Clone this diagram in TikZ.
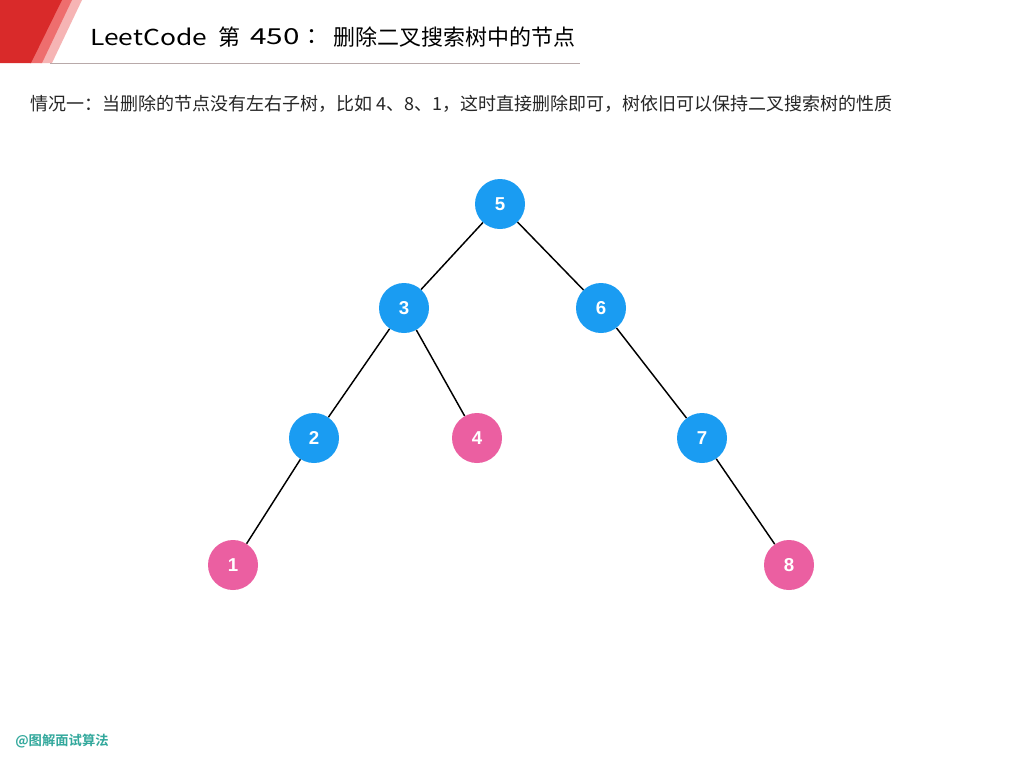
\documentclass[tikz,border=0pt]{standalone}
\usepackage{fontspec}
\usepackage{graphicx}
\newfontfamily\cjk{Noto Sans CJK SC}
\newfontfamily\cjkb{Noto Sans CJK SC}[BoldFont={* Bold}]
\setmainfont{Liberation Sans}
\definecolor{nblue}{HTML}{1A9CF2}
\definecolor{npink}{HTML}{EB5FA1}
\definecolor{hred}{HTML}{D92A2A}
\definecolor{hmid}{HTML}{EE6E6E}
\definecolor{hpale}{HTML}{F6B4B4}
\definecolor{hline}{HTML}{B8A9A9}
\definecolor{wm}{HTML}{32A89C}
\begin{document}
\begin{tikzpicture}[x=0.75pt,y=-0.75pt,
  tnode/.style={circle,minimum size=37.5pt,inner sep=0pt,text=white,font=\fontsize{14}{14}\selectfont\bfseries},
  bnode/.style={tnode,fill=nblue},
  pnode/.style={tnode,fill=npink},
  ttext/.style={anchor=west,inner sep=0pt,font=\cjk\fontsize{16.5}{16.5}\selectfont},
  edge/.style={draw=black,line width=1.1pt}]
\useasboundingbox (0,0) rectangle (1024,768);
\fill[white] (0,0) rectangle (1024,768);
% header decoration
\fill[hpale] (70,0) -- (82,0) -- (52,63) -- (40,63) -- cycle;
\fill[hmid] (60,0) -- (72,0) -- (42,63) -- (30,63) -- cycle;
\fill[hred] (0,0) -- (62,0) -- (31,63) -- (0,63) -- cycle;
\draw[hline,line width=1.2pt] (50,63.5) -- (580,63.5);
\node[ttext] (t1) at (90,37) {\scalebox{1.2}[1]{LeetCode}};
\node[ttext] (t2) at (218,37) {第};
\node[ttext] (t3) at (250,37) {\scalebox{1.35}[1]{450}};
\node[ttext] (t4) at (306,37) {：};
\node[ttext] (t5) at (333,37) {删除二叉搜索树中的节点};
\node[anchor=west,inner sep=0pt,font=\cjk\fontsize{13.5}{13.5}\selectfont,text=black!85] (sub) at (30,104) {情况一：当删除的节点没有左右子树，比如 4、8、1，这时直接删除即可，树依旧可以保持二叉搜索树的性质};
\node[anchor=west,inner sep=0pt,font=\cjkb\bfseries\fontsize{10}{10}\selectfont,text=wm] (wmark) at (15,741) {@图解面试算法};
% nodes
\node[bnode] (n5) at (500,204) {5};
\node[bnode] (n3) at (404,308) {3};
\node[bnode] (n6) at (601,308) {6};
\node[bnode] (n2) at (314,438) {2};
\node[pnode] (n4) at (477,438) {4};
\node[bnode] (n7) at (702,438) {7};
\node[pnode] (n1) at (233,565) {1};
\node[pnode] (n8) at (789,565) {8};
\draw[edge] (n5) -- (n3);
\draw[edge] (n5) -- (n6);
\draw[edge] (n3) -- (n2);
\draw[edge] (n3) -- (n4);
\draw[edge] (n6) -- (n7);
\draw[edge] (n2) -- (n1);
\draw[edge] (n7) -- (n8);
\end{tikzpicture}
\end{document}
